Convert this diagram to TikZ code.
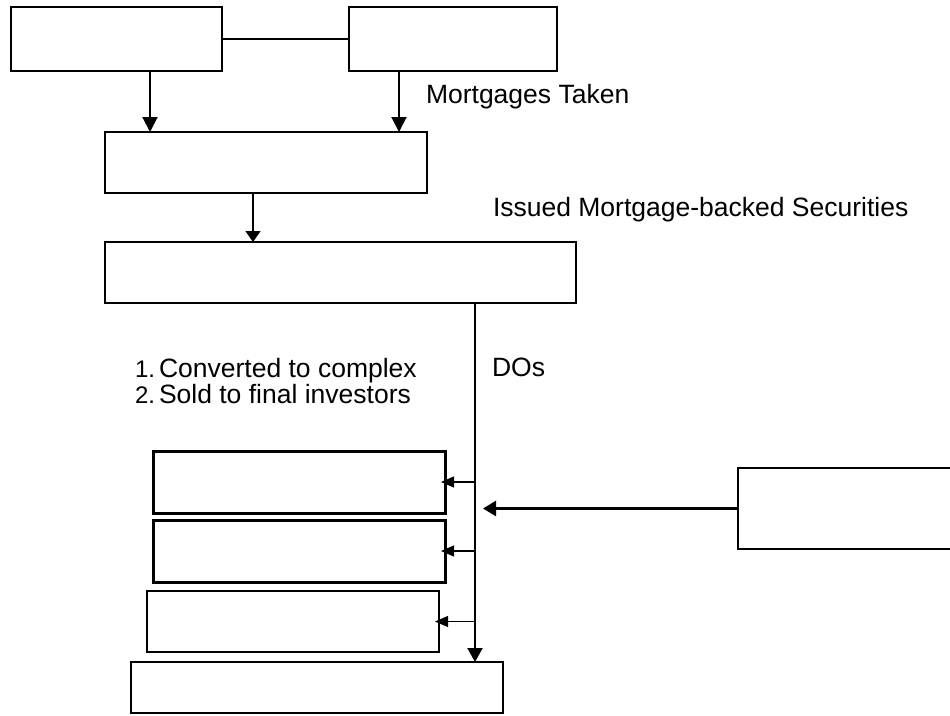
\documentclass[tikz,border=0pt]{standalone}
\usepackage{fontspec}
\setmainfont{Liberation Sans}
\usetikzlibrary{arrows.meta}

\tikzset{
  blk/.style={draw=black, fill=none, rectangle, inner sep=0pt, outer sep=0pt},
  thick blk/.style={blk, line width=2.5pt},
  heavy blk/.style={blk, line width=3pt},
  thin blk/.style={blk, line width=1.5pt},
  arr/.style={-{Triangle[length=15pt,width=15pt]}, line width=2pt},
  small arr/.style={-{Triangle[length=13pt,width=11pt]}, line width=1.2pt, shorten >=-4pt},
  lbl/.style={anchor=base west, inner sep=0pt, outer sep=0pt,
              font=\fontsize{26.5}{26}\selectfont},
  num/.style={font=\fontsize{24}{24}\selectfont}
}

\begin{document}
\begin{tikzpicture}[x=1pt, y=-1pt]
  \useasboundingbox (0,0) rectangle (950,715);
  \clip (0,0) rectangle (950,715);

  % upper row of parties
  \node[thick blk, minimum width=211pt, minimum height=64pt] (A) at (116.5,39) {};
  \node[thick blk, minimum width=208pt, minimum height=64pt] (B) at (453,39) {};
  % pooling and securitisation boxes
  \node[thin blk, minimum width=322pt, minimum height=61pt] (C) at (266,162.5) {};
  \node[thin blk, minimum width=471pt, minimum height=61pt] (D) at (340.5,272.5) {};
  % tranche stack
  \node[heavy blk, minimum width=292pt, minimum height=62pt] (E1) at (299,482) {};
  \node[heavy blk, minimum width=292pt, minimum height=62pt] (E2) at (299,551) {};
  \node[thin blk, minimum width=292pt, minimum height=61pt] (E3) at (293,621.5) {};
  \node[thin blk, minimum width=372pt, minimum height=51pt] (F) at (317,687.5) {};
  % outside box feeding the bus
  \node[thick blk, minimum width=227pt, minimum height=81pt] (G) at (851.5,508.5) {};

  % helper columns and points
  \coordinate (colA) at (150,0);
  \coordinate (colB) at (399,0);
  \coordinate (colC) at (253,0);
  \coordinate (bus) at (475,0);
  \coordinate (gtip) at (483,508.5);

  % connectors
  \draw[line width=2pt] (A.east) -- (B.west);
  \draw[arr] (A.south -| colA) -- (C.north -| colA);
  \draw[arr] (B.south -| colB) -- (C.north -| colB);
  \draw[-{Triangle[length=11pt,width=15pt]}, line width=1.5pt]
       (C.south -| colC) -- (D.north -| colC);
  \draw[-{Triangle[length=14pt,width=15pt]}, line width=2pt]
       (D.south -| bus) -- (F.north -| bus);
  \draw[small arr] (E1.east -| bus) -- (E1.east);
  \draw[small arr] (E2.east -| bus) -- (E2.east);
  \draw[small arr] (E3.east -| bus) -- (E3.east);
  \draw[-{Triangle[length=13pt,width=15pt]}, line width=2.5pt] (G.west) -- (gtip);

  % labels
  \node[lbl] (mt) at (426,103) {Mortgages Taken};
  \node[lbl] (ims) at (493,216.5) {Issued Mortgage-backed Securities};
  \node[lbl] (dos) at (492,376) {DOs};
  \node[lbl] (l1) at (135,377) {\makebox[24pt][l]{\fontsize{24}{24}\selectfont 1.}Converted to complex};
  \node[lbl] (l2) at (135,403) {\makebox[24pt][l]{\fontsize{24}{24}\selectfont 2.}Sold to final investors};
\end{tikzpicture}
\end{document}
